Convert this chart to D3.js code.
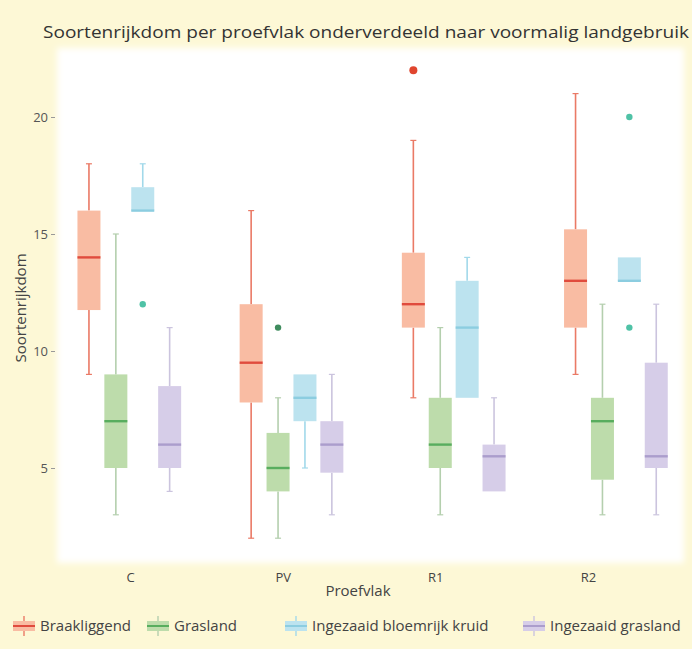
<!DOCTYPE html>
<html>
<head>
<meta charset="utf-8">
<script src="https://cdn.jsdelivr.net/npm/d3@7"></script>
<style>
  html, body { margin: 0; padding: 0; background: #fdf8d6; }
  svg { display: block; }
  text { font-family: "Open Sans", "Noto Sans", sans-serif; }
</style>
</head>
<body>
<svg id="chart" width="692" height="649"></svg>
<script>
// ---------- data ----------
const categories = ["C", "PV", "R1", "R2"];
const seriesNames = ["Braakliggend", "Grasland", "Ingezaaid bloemrijk kruid", "Ingezaaid grasland"];
const yTicks = [5, 10, 15, 20];
// [lower whisker, Q1, median, Q3, upper whisker] per category
const braakliggend = [[9, 11.75, 14, 16, 18], [2, 7.8, 9.5, 12, 16], [8, 11, 12, 14.2, 19], [9, 11, 13, 15.2, 21]];
const grasland = [[3, 5, 7, 9, 15], [2, 4, 5, 6.5, 8], [3, 5, 6, 8, 11], [3, 4.5, 7, 8, 12]];
const bloemrijk = [[16, 16, 16, 17, 18], [5, 7, 8, 9, 9], [8, 8, 11, 13, 14], [13, 13, 13, 14, 14]];
const ingezaaidGras = [[4, 5, 6, 8.5, 11], [3, 4.8, 6, 7, 9], [4, 4, 5.5, 6, 8], [3, 5, 5.5, 9.5, 12]];
// outliers: [category, series index, value]
const outliers = [["C", 2, 12], ["PV", 1, 11], ["R1", 0, 22], ["R2", 2, 20], ["R2", 2, 11]];

const seriesData = [braakliggend, grasland, bloemrijk, ingezaaidGras];

// ---------- styles ----------
const fills = ["#f9bca3", "#bddcab", "#bce3ef", "#d6cde8"];
const medians = ["#e04b3d", "#58ad5e", "#8ccde0", "#ab9dcc"];
const whiskers = ["#ea7a66", "#b4cfae", "#a2d9ea", "#cbc4de"];
const outlierCol = ["#e0452e", "#3f8c5e", "#4fc2a6", "#a898c8"];

const svg = d3.select("#chart");
const plot = { x0: 57, x1: 684, y0: 48, y1: 563 };

// plot background with soft edge
const defs = svg.append("defs");
const f = defs.append("filter").attr("id", "soft").attr("x", "-5%").attr("y", "-5%").attr("width", "110%").attr("height", "110%");
f.append("feGaussianBlur").attr("stdDeviation", 3);
svg.append("rect")
  .attr("x", plot.x0).attr("y", plot.y0)
  .attr("width", plot.x1 - plot.x0).attr("height", plot.y1 - plot.y0)
  .attr("fill", "#ffffff").attr("filter", "url(#soft)");

// ---------- scales ----------
const y = d3.scaleLinear().domain([0, 20]).range([585, 117]);
const xGroup = d3.scaleBand().domain(categories).range([48.2, 697]).padding(0);
const xInner = d3.scalePoint().domain(seriesNames).range([-40.35, 40.35]);
const xLabel = d3.scalePoint().domain(categories).range([130, 588]);
const boxW = 23, capW = 6;

// ---------- boxes ----------
const g = svg.append("g");
seriesData.forEach((arr, si) => {
  arr.forEach((s, ci) => {
    const cx = xGroup(categories[ci]) + xGroup.bandwidth() / 2 + xInner(seriesNames[si]);
    const [lo, q1, med, q3, hi] = s;
    if (hi > q3) {
      g.append("line").attr("x1", cx).attr("x2", cx).attr("y1", y(q3)).attr("y2", y(hi))
        .attr("stroke", whiskers[si]).attr("stroke-width", 1.6);
      g.append("line").attr("x1", cx - capW / 2).attr("x2", cx + capW / 2).attr("y1", y(hi)).attr("y2", y(hi))
        .attr("stroke", whiskers[si]).attr("stroke-width", 1.2);
    }
    if (lo < q1) {
      g.append("line").attr("x1", cx).attr("x2", cx).attr("y1", y(q1)).attr("y2", y(lo))
        .attr("stroke", whiskers[si]).attr("stroke-width", 1.6);
      g.append("line").attr("x1", cx - capW / 2).attr("x2", cx + capW / 2).attr("y1", y(lo)).attr("y2", y(lo))
        .attr("stroke", whiskers[si]).attr("stroke-width", 1.2);
    }
    g.append("rect").attr("x", cx - boxW / 2).attr("width", boxW)
      .attr("y", y(q3)).attr("height", Math.max(2, y(q1) - y(q3)))
      .attr("fill", fills[si]);
    g.append("line").attr("x1", cx - boxW / 2).attr("x2", cx + boxW / 2)
      .attr("y1", y(med)).attr("y2", y(med))
      .attr("stroke", medians[si]).attr("stroke-width", 2.4);
  });
});

outliers.forEach(([cat, si, v]) => {
  const cx = xGroup(cat) + xGroup.bandwidth() / 2 + xInner(seriesNames[si]);
  g.append("circle").attr("cx", cx).attr("cy", y(v)).attr("r", si === 0 ? 4 : 3.2)
    .attr("fill", outlierCol[si]);
});

// ---------- axes ----------
const yAxis = svg.append("g").attr("transform", `translate(${plot.x0 - 2},0)`)
  .call(d3.axisLeft(y).tickValues(yTicks).tickSize(4).tickPadding(3));
yAxis.select(".domain").remove();
yAxis.selectAll("line").attr("stroke", "#999");
yAxis.selectAll("text").attr("fill", "#555").style("font-size", "13px");

const xAxis = svg.append("g").attr("transform", `translate(0,${plot.y1})`)
  .call(d3.axisBottom(xLabel).tickSize(0).tickPadding(10));
xAxis.select(".domain").remove();
xAxis.selectAll("text").attr("fill", "#444").style("font-size", "13px");

svg.append("text").attr("x", 358).attr("y", 596).attr("text-anchor", "middle")
  .attr("fill", "#444").style("font-size", "15px").text("Proefvlak");
svg.append("text").attr("transform", "translate(26,308) rotate(-90)").attr("text-anchor", "middle")
  .attr("fill", "#444").style("font-size", "15px").text("Soortenrijkdom");

svg.append("text").attr("x", 366).attr("y", 38).attr("text-anchor", "middle")
  .attr("fill", "#333").style("font-size", "17px")
  .attr("textLength", 646).attr("lengthAdjust", "spacingAndGlyphs")
  .text("Soortenrijkdom per proefvlak onderverdeeld naar voormalig landgebruik");

// ---------- legend ----------
const legendX = [12, 146, 284, 522];
const legend = svg.append("g").attr("transform", "translate(0,626)");
seriesNames.forEach((name, si) => {
  const lg = legend.append("g").attr("transform", `translate(${legendX[si]},0)`);
  lg.append("line").attr("x1", 12).attr("x2", 12).attr("y1", -10).attr("y2", 10)
    .attr("stroke", whiskers[si]).attr("stroke-width", 1.4);
  lg.append("rect").attr("x", 1).attr("y", -5).attr("width", 22).attr("height", 10).attr("fill", fills[si]);
  lg.append("line").attr("x1", 1).attr("x2", 23).attr("y1", 0).attr("y2", 0)
    .attr("stroke", medians[si]).attr("stroke-width", 2);
  lg.append("text").attr("x", 28).attr("y", 0).attr("dy", "0.35em")
    .attr("fill", "#444").style("font-size", "15px").text(name);
});
</script>
</body>
</html>
